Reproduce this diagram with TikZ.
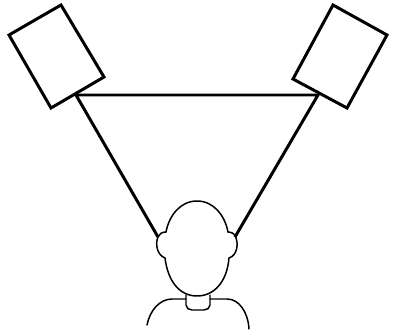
\documentclass[tikz,border=0pt]{standalone}
\usetikzlibrary{calc}
\tikzset{
  cabinet/.style={draw=black, line width=1.7pt, line join=miter},
  sightline/.style={draw=black, line width=1.7pt},
  listener/.style={draw=black, line width=0.85pt, line cap=round},
}
\begin{document}
\begin{tikzpicture}[x=0.02cm, y=-0.02cm]
  \useasboundingbox (0,0) rectangle (393,331);
  % listening positions
  \coordinate (spkl) at (76,95);
  \coordinate (spkr) at (318,95);
  \coordinate (earl) at (158,237);
  \coordinate (earr) at (235,237);
  % triangle
  \draw[sightline] (earl) -- (spkl) -- (spkr) -- (earr);
  % speakers
  \draw[cabinet] (61,5) -- (104,77) -- (51,108) -- (9,35) -- cycle;
  \draw[cabinet] (333,5) -- (387,35) -- (347,108) -- (293,79) -- cycle;
  % head
  \draw[listener] (197,201)
    .. controls (214,201) and (225,216) .. (228,232)
    .. controls (232,232) and (235,234) .. (236,238)
    .. controls (238,243) and (238,255) .. (229,258)
    .. controls (227,282) and (214,296) .. (197,296)
    .. controls (180,296) and (168,282) .. (165,258)
    .. controls (157,255) and (155,244) .. (158,237)
    .. controls (159,234) and (162,232) .. (166,232)
    .. controls (169,216) and (180,201) .. (197,201) -- cycle;
  % neck
  \draw[listener] (186,295) -- (186,305)
    .. controls (186,308) and (189,310) .. (192,310) -- (204,310)
    .. controls (207,310) and (210,308) .. (210,305) -- (210,295);
  % shoulders
  \draw[listener] (147,325) .. controls (150,310) and (160,299) .. (172,299) -- (186,299);
  \draw[listener] (210,299) -- (227,299) .. controls (239,299) and (248,312) .. (249,329);
\end{tikzpicture}
\end{document}
